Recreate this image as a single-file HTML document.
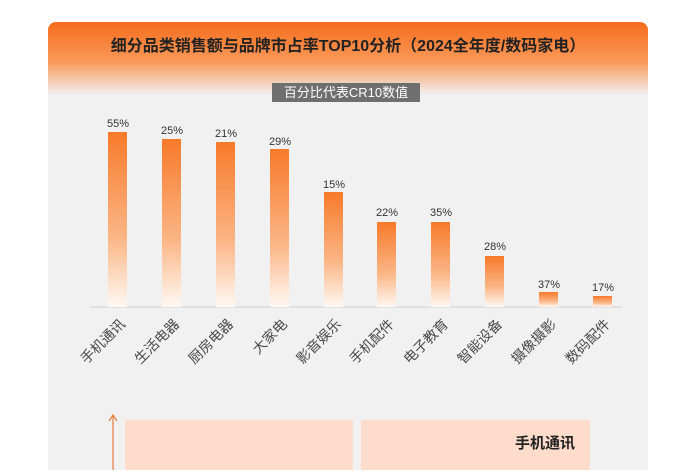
<!DOCTYPE html>
<html><head><meta charset="utf-8"><style>
body{margin:0;width:700px;height:470px;overflow:hidden;background:#fff;font-family:"Liberation Sans","Noto Sans CJK SC",sans-serif}
</style></head><body>
<svg width="700" height="470" xmlns="http://www.w3.org/2000/svg" font-family="Liberation Sans, Noto Sans CJK SC, sans-serif">
<defs>
<linearGradient id="hd" x1="0" y1="0" x2="0" y2="1">
<stop offset="0" stop-color="#f56c1c"/><stop offset="0.55" stop-color="#fa9a5a"/><stop offset="1" stop-color="#f1f1f1"/>
</linearGradient>
<linearGradient id="bar" x1="0" y1="0" x2="0" y2="1">
<stop offset="0" stop-color="#f77a2a"/><stop offset="0.6" stop-color="#fbb585"/><stop offset="1" stop-color="#fff8f3"/>
</linearGradient>
</defs>
<rect x="48" y="22" width="600" height="460" rx="8" fill="#f1f1f1"/>
<path d="M48 95 V30 a8 8 0 0 1 8 -8 H640 a8 8 0 0 1 8 8 V95 Z" fill="url(#hd)"/>
<text x="348" y="51" text-anchor="middle" font-size="16" font-weight="bold" fill="#222">细分品类销售额与品牌市占率TOP10分析（2024全年度/数码家电）</text>
<rect x="272" y="83" width="148" height="19" fill="#6f6f6f"/>
<text x="346" y="97" text-anchor="middle" font-size="13" fill="#fff">百分比代表CR10数值</text>
<line x1="90" y1="307" x2="622" y2="307" stroke="#dcdcdc" stroke-width="1.5"/>
<g fill="url(#bar)">
<rect x="108" y="132" width="19" height="175"/>
<rect x="162" y="139" width="19" height="168"/>
<rect x="216" y="142" width="19" height="165"/>
<rect x="270" y="149" width="19" height="158"/>
<rect x="324" y="192" width="19" height="115"/>
<rect x="377" y="222" width="19" height="85"/>
<rect x="431" y="222" width="19" height="85"/>
<rect x="485" y="256" width="19" height="51"/>
<rect x="539" y="292" width="19" height="15"/>
<rect x="593" y="296" width="19" height="11"/>
</g>
<g font-size="11" fill="#333" text-anchor="middle">
<text x="118" y="127">55%</text><text x="172" y="134">25%</text><text x="226" y="137">21%</text><text x="280" y="145">29%</text><text x="334" y="188">15%</text><text x="387" y="216">22%</text><text x="441" y="216">35%</text><text x="495" y="250">28%</text><text x="549" y="288">37%</text><text x="603" y="291">17%</text>
</g>
<g font-size="14" fill="#4a4a4a" text-anchor="end">
<text transform="translate(126,325) rotate(-45)">手机通讯</text>
<text transform="translate(180,325) rotate(-45)">生活电器</text>
<text transform="translate(234,325) rotate(-45)">厨房电器</text>
<text transform="translate(288,325) rotate(-45)">大家电</text>
<text transform="translate(342,325) rotate(-45)">影音娱乐</text>
<text transform="translate(395,325) rotate(-45)">手机配件</text>
<text transform="translate(449,325) rotate(-45)">电子教育</text>
<text transform="translate(503,325) rotate(-45)">智能设备</text>
<text transform="translate(557,325) rotate(-45)">摄像摄影</text>
<text transform="translate(611,325) rotate(-45)">数码配件</text>
</g>
<line x1="113" y1="416" x2="113" y2="470" stroke="#e57a3e" stroke-width="1.2"/>
<path d="M109 421 L113 415 L117 421" fill="none" stroke="#e57a3e" stroke-width="1.2"/>
<rect x="125" y="420" width="228" height="50" fill="#fddccb"/>
<rect x="361" y="420" width="229" height="50" fill="#fddccb"/>
<text x="575" y="448" text-anchor="end" font-size="15" font-weight="bold" fill="#222">手机通讯</text>
</svg>
</body></html>
